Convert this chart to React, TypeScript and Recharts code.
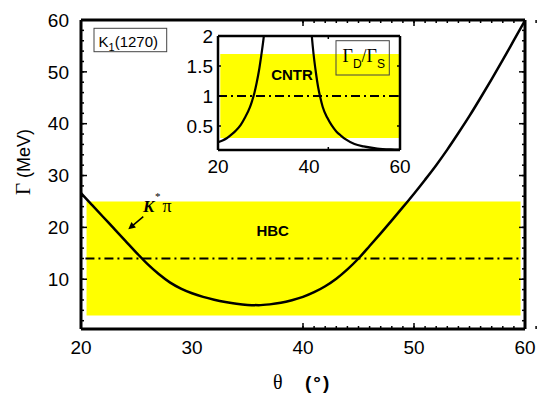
import React from 'react';
import { LineChart, Line, XAxis, YAxis, ReferenceArea, ReferenceLine } from 'recharts';

// main panel: Gamma(K*pi) vs theta
const thetaMain = [20, 21, 22, 23, 24, 25, 26, 27, 28, 29, 30, 31, 32, 33, 34, 35, 36, 37, 38, 39, 40,
  41, 42, 43, 44, 45, 46, 47, 48, 49, 50, 51, 52, 53, 54, 55, 56, 57, 58, 59, 60];
const gammaMain = [26.6, 24.3, 22.0, 19.7, 17.4, 15.1, 12.9, 11.0, 9.4, 8.2, 7.3, 6.6, 6.05, 5.6, 5.25, 5.05, 5.0,
  5.15, 5.45, 5.95, 6.6, 7.5, 8.65, 10.1, 11.9, 14.0, 16.4, 18.85, 21.35, 23.9, 26.5, 29.2, 32.0, 35.0, 38.2, 41.5,
  45.0, 48.6, 52.3, 56.1, 59.9];

// HBC band and central value
const hbcRange = [3, 25];
const hbcTheta = [20.5, 59.6];
const hbcCentral = 14;
const hbcLineTheta = [20.4, 59.8];

// inset: Gamma_D / Gamma_S vs theta (null = off scale)
const thetaInset = [20, 21, 22, 23, 24, 25, 26, 27, 27.5, 28, 28.5, 29, 29.5, 30, 30.5, 31, 35,
  40, 40.5, 41, 41.5, 42, 42.5, 43, 44, 45, 46, 47, 48, 50, 52, 55, 58, 60];
const ratioInset = [0.23, 0.26, 0.3, 0.36, 0.43, 0.52, 0.65, 0.81, 0.92, 1.05, 1.22, 1.42, 1.67, 1.95, 2.3, 2.8, null,
  2.6, 2.1, 1.7, 1.4, 1.15, 0.97, 0.82, 0.64, 0.51, 0.41, 0.34, 0.28, 0.2, 0.16, 0.125, 0.11, 0.105];

// CNTR band and central value
const cntrRange = [0.3, 1.7];
const cntrTheta = [20.5, 60];
const cntrCentral = 1;

const mainXTicks = [20, 30, 40, 50, 60];
const mainYTicks = [10, 20, 30, 40, 50, 60];
const insetXTicks = [20, 40, 60];
const insetYTicks = [0.5, 1, 1.5, 2];

const minorX: number[] = [];
for (let t = 20; t <= 60; t += 1) minorX.push(t);
const minorY: number[] = [];
for (let g = 2; g <= 60; g += 2) minorY.push(g);

const mainData = thetaMain.map((t, i) => ({ theta: t, gamma: gammaMain[i] }));
const insetData = thetaInset.map((t, i) => ({ theta: t, ratio: ratioInset[i] }));

const SANS = '"Liberation Sans", Arial, Helvetica, sans-serif';
const SERIF = '"Liberation Serif", "Times New Roman", serif';
const DASHDOT = '9 4 2 4';
const tickLineStyle = { stroke: '#000', strokeWidth: 1.5 };
const Blank = () => <g />;
const THIN = 0.01;

const arrowHead = (tip: number[], tail: number[], len: number, half: number) => {
  const dx = tip[0] - tail[0];
  const dy = tip[1] - tail[1];
  const d = Math.hypot(dx, dy);
  const ux = dx / d;
  const uy = dy / d;
  const bx = tip[0] - ux * len;
  const by = tip[1] - uy * len;
  return `${tip[0]},${tip[1]} ${bx - uy * half},${by + ux * half} ${bx + uy * half},${by - ux * half}`;
};

const App = () => {
  const tip = [128.3, 229.3];
  const tail = [143.3, 216.7];
  return (
    <div style={{ position: 'relative', width: 537, height: 394, fontFamily: SANS }}>
      {/* let the chart use the whole 537x394 window */}
      <style>{'body { margin: 0; }'}</style>
      <LineChart width={537} height={394} data={mainData} margin={{ top: 20, right: 12, bottom: 25, left: 0 }}>
        <XAxis xAxisId="x" dataKey="theta" type="number" domain={[20, 60]} ticks={mainXTicks} interval={0}
          allowDataOverflow height={40} tickLine={false} tickSize={0} tickMargin={12}
          axisLine={{ stroke: '#000', strokeWidth: 3 }} tick={{ fill: '#000', fontSize: 19 }} />
        <XAxis xAxisId="xMaj" type="number" domain={[20, 60]} ticks={mainXTicks} interval={0} allowDataOverflow
          mirror height={THIN} axisLine={false} tick={Blank} tickSize={6} tickLine={tickLineStyle} />
        <XAxis xAxisId="xMin" type="number" domain={[20, 60]} ticks={minorX} interval={0} allowDataOverflow
          mirror height={THIN} axisLine={false} tick={Blank} tickSize={3} tickLine={tickLineStyle} />
        <XAxis xAxisId="xTop" orientation="top" type="number" domain={[20, 60]} ticks={mainXTicks} interval={0}
          allowDataOverflow mirror height={THIN} axisLine={{ stroke: '#000', strokeWidth: 3 }} tick={Blank}
          tickSize={6} tickLine={tickLineStyle} />
        <XAxis xAxisId="xTopMin" orientation="top" type="number" domain={[20, 60]} ticks={minorX} interval={0}
          allowDataOverflow mirror height={THIN} axisLine={false} tick={Blank} tickSize={3} tickLine={tickLineStyle} />

        <YAxis yAxisId="y" type="number" domain={[0.4, 60]} ticks={mainYTicks} interval={0} allowDataOverflow
          width={81} tickLine={false} tickSize={0} tickMargin={12}
          axisLine={{ stroke: '#000', strokeWidth: 3 }} tick={{ fill: '#000', fontSize: 19 }} />
        <YAxis yAxisId="yMaj" type="number" domain={[0.4, 60]} ticks={mainYTicks} interval={0} allowDataOverflow
          mirror width={THIN} axisLine={false} tick={Blank} tickSize={6} tickLine={tickLineStyle} />
        <YAxis yAxisId="yMin" type="number" domain={[0.4, 60]} ticks={minorY} interval={0} allowDataOverflow
          mirror width={THIN} axisLine={false} tick={Blank} tickSize={3} tickLine={tickLineStyle} />
        <YAxis yAxisId="yR" orientation="right" type="number" domain={[0.4, 60]} ticks={mainYTicks} interval={0}
          allowDataOverflow mirror width={THIN} axisLine={{ stroke: '#000', strokeWidth: 3 }} tick={Blank}
          tickSize={6} tickLine={tickLineStyle} />
        <YAxis yAxisId="yRMin" orientation="right" type="number" domain={[0.4, 60]} ticks={minorY} interval={0}
          allowDataOverflow mirror width={THIN} axisLine={false} tick={Blank} tickSize={3} tickLine={tickLineStyle} />

        <ReferenceArea xAxisId="x" yAxisId="y" x1={hbcTheta[0]} x2={hbcTheta[1]} y1={hbcRange[0]} y2={hbcRange[1]}
          fill="#ffff00" fillOpacity={1} stroke="none" />
        <ReferenceLine xAxisId="x" yAxisId="y"
          segment={[{ x: hbcLineTheta[0], y: hbcCentral }, { x: hbcLineTheta[1], y: hbcCentral }]}
          stroke="#000" strokeWidth={2} strokeDasharray={DASHDOT} />
        <Line xAxisId="x" yAxisId="y" dataKey="gamma" type="monotone" stroke="#000" strokeWidth={2.5}
          dot={false} activeDot={false} isAnimationActive={false} />
      </LineChart>

      <div style={{ position: 'absolute', left: 178, top: 22 }}>
        <LineChart width={242} height={158} data={insetData} margin={{ top: 14, right: 20, bottom: 0, left: 0 }}>
          <XAxis xAxisId="x" dataKey="theta" type="number" domain={[20, 60]} ticks={insetXTicks} interval={0}
            allowDataOverflow height={30} tickLine={false} tickSize={0} tickMargin={10}
            axisLine={{ stroke: '#000', strokeWidth: 2.5 }} tick={{ fill: '#000', fontSize: 19 }} />
          <XAxis xAxisId="xMaj" type="number" domain={[20, 60]} ticks={insetXTicks} interval={0} allowDataOverflow
            mirror height={THIN} axisLine={false} tick={Blank} tickSize={3} tickLine={tickLineStyle} />
          <XAxis xAxisId="xTop" orientation="top" type="number" domain={[20, 60]} ticks={insetXTicks} interval={0}
            allowDataOverflow mirror height={THIN} axisLine={{ stroke: '#000', strokeWidth: 2.5 }} tick={Blank}
            tickSize={3} tickLine={tickLineStyle} />
          <YAxis yAxisId="y" type="number" domain={[0.1, 2]} ticks={insetYTicks} interval={0} allowDataOverflow
            width={40} tickLine={false} tickSize={0} tickMargin={5}
            axisLine={{ stroke: '#000', strokeWidth: 2.5 }} tick={{ fill: '#000', fontSize: 19 }} />
          <YAxis yAxisId="yMaj" type="number" domain={[0.1, 2]} ticks={insetYTicks} interval={0} allowDataOverflow
            mirror width={THIN} axisLine={false} tick={Blank} tickSize={3} tickLine={tickLineStyle} />
          <YAxis yAxisId="yR" orientation="right" type="number" domain={[0.1, 2]} ticks={insetYTicks} interval={0}
            allowDataOverflow mirror width={THIN} axisLine={{ stroke: '#000', strokeWidth: 2.5 }} tick={Blank}
            tickSize={3} tickLine={tickLineStyle} />

          <ReferenceArea xAxisId="x" yAxisId="y" x1={cntrTheta[0]} x2={cntrTheta[1]} y1={cntrRange[0]} y2={cntrRange[1]}
            fill="#ffff00" fillOpacity={1} stroke="none" />
          <ReferenceLine xAxisId="x" yAxisId="y" y={cntrCentral} stroke="#000" strokeWidth={2} strokeDasharray={DASHDOT} />
          <Line xAxisId="x" yAxisId="y" dataKey="ratio" type="monotone" stroke="#000" strokeWidth={2.2}
            dot={false} activeDot={false} connectNulls={false} isAnimationActive={false} />
        </LineChart>
      </div>

      <svg width={537} height={394} style={{ position: 'absolute', left: 0, top: 0, pointerEvents: 'none' }}>
        {/* axis titles */}
        <text transform="translate(30,162) rotate(-90)" textAnchor="middle" fontSize={18} fill="#000">
          <tspan fontFamily={SERIF} fontSize={21}>Γ</tspan>
          <tspan fontFamily={SANS}> (MeV)</tspan>
        </text>
        <text y={389} fill="#000">
          <tspan x={273} fontFamily={SERIF} fontSize={20}>θ</tspan>
          <tspan x={305} fontFamily={SANS} fontSize={19} fontWeight="bold" letterSpacing={2}>(°)</tspan>
        </text>

        {/* K1(1270) box */}
        <rect x={94} y={28.3} width={72.7} height={23.4} fill="#fff" stroke="#444" strokeWidth={1} />
        <text x={98.5} y={46.5} fontSize={15} fill="#000" fontFamily={SANS}>
          K<tspan fontSize={11} dy={4}>1</tspan><tspan dy={-4}>(1270)</tspan>
        </text>

        {/* K* pi annotation */}
        <line x1={tail[0]} y1={tail[1]} x2={tip[0] + 4} y2={tip[1] - 3.4} stroke="#000" strokeWidth={1.5} />
        <polygon points={arrowHead(tip, tail, 7, 3.5)} fill="#000" />
        <text x={143} y={211.7} fontFamily={SERIF} fontSize={17} fill="#000" fontWeight="bold" fontStyle="italic">K</text>
        <text x={155} y={200} fontFamily={SERIF} fontSize={11} fill="#000">*</text>
        <text x={162.5} y={211.7} fontFamily={SERIF} fontSize={18} fill="#000">π</text>

        <text x={272.7} y={230} textAnchor="middle" dominantBaseline="central" fontFamily={SANS}
          fontSize={15} fontWeight="bold" fill="#000">HBC</text>
        <text x={292} y={74.3} textAnchor="middle" dominantBaseline="central" fontFamily={SANS}
          fontSize={15} fontWeight="bold" fill="#000">CNTR</text>

        {/* Gamma_D / Gamma_S box */}
        <rect x={336} y={40.7} width={53.3} height={34.3} fill="none" stroke="#444" strokeWidth={1} />
        <text x={342.5} y={61.7} fill="#000">
          <tspan fontFamily={SERIF} fontSize={18}>Γ</tspan>
          <tspan fontFamily={SANS} fontSize={12} dy={6}>D</tspan>
          <tspan fontFamily={SERIF} fontSize={18} dy={-6}>/Γ</tspan>
          <tspan fontFamily={SANS} fontSize={12} dy={6}>S</tspan>
        </text>
      </svg>
    </div>
  );
};

export default App;
